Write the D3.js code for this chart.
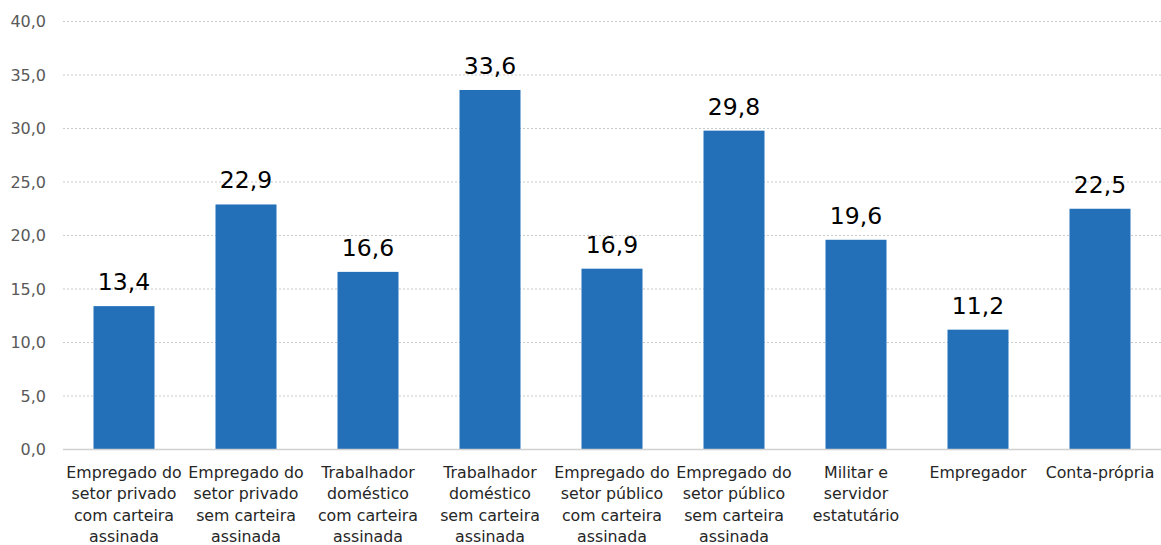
<!DOCTYPE html>
<html>
<head>
<meta charset="utf-8">
<script src="https://cdn.jsdelivr.net/npm/d3@7"></script>
<style>
  body { margin: 0; background: #fff; }
  svg text { font-family: "DejaVu Sans", Verdana, sans-serif; }
</style>
</head>
<body>
<svg id="chart"></svg>
<script>
const categories = [
  ["Empregado do", "setor privado", "com carteira", "assinada"],
  ["Empregado do", "setor privado", "sem carteira", "assinada"],
  ["Trabalhador", "doméstico", "com carteira", "assinada"],
  ["Trabalhador", "doméstico", "sem carteira", "assinada"],
  ["Empregado do", "setor público", "com carteira", "assinada"],
  ["Empregado do", "setor público", "sem carteira", "assinada"],
  ["Militar e", "servidor", "estatutário"],
  ["Empregador"],
  ["Conta-própria"]
];
const values = [13.4, 22.9, 16.6, 33.6, 16.9, 29.8, 19.6, 11.2, 22.5];
const yTicks = [0, 5, 10, 15, 20, 25, 30, 35, 40];

const W = 1161, H = 545;
const fmt = v => d3.format(".1f")(v).replace(".", ",");

const svg = d3.select("#chart").attr("width", W).attr("height", H);

const x = d3.scaleBand()
  .domain(d3.range(categories.length))
  .range([63, 1161])
  .paddingInner(0.5)
  .paddingOuter(0.25);

const y = d3.scaleLinear().domain([0, 40]).range([449.5, 21.5]);

// gridlines
svg.append("g")
  .selectAll("line")
  .data(yTicks.filter(d => d > 0))
  .enter().append("line")
  .attr("x1", 63).attr("x2", 1161)
  .attr("y1", d => y(d)).attr("y2", d => y(d))
  .attr("stroke", "#c9c9c9")
  .attr("stroke-width", 1)
  .attr("stroke-dasharray", "2,2");

// y axis labels
svg.append("g")
  .selectAll("text")
  .data(yTicks)
  .enter().append("text")
  .attr("x", 46)
  .attr("y", d => y(d))
  .attr("dy", "0.35em")
  .attr("text-anchor", "end")
  .attr("fill", "#595959")
  .style("font-size", "16px")
  .text(d => fmt(d));

// bars
svg.append("g")
  .selectAll("rect")
  .data(values)
  .enter().append("rect")
  .attr("x", (d, i) => x(i))
  .attr("y", d => y(d))
  .attr("width", x.bandwidth())
  .attr("height", d => y(0) - y(d))
  .attr("fill", "#2370b9");

// baseline
svg.append("line")
  .attr("x1", 63).attr("x2", 1161)
  .attr("y1", y(0)).attr("y2", y(0))
  .attr("stroke", "#d0d0d0")
  .attr("stroke-width", 1.5);

// value labels
svg.append("g")
  .selectAll("text")
  .data(values)
  .enter().append("text")
  .attr("x", (d, i) => x(i) + x.bandwidth() / 2)
  .attr("y", d => y(d) - 16)
  .attr("text-anchor", "middle")
  .attr("fill", "#000")
  .style("font-size", "23.5px")
  .text(d => fmt(d));

// category labels
const cat = svg.append("g")
  .selectAll("text")
  .data(categories)
  .enter().append("text")
  .attr("text-anchor", "middle")
  .attr("fill", "#262626")
  .style("font-size", "15.8px")
  .attr("x", (d, i) => x(i) + x.bandwidth() / 2)
  .attr("y", 478);

cat.selectAll("tspan")
  .data((d, i) => d.map(t => ({t, i})))
  .enter().append("tspan")
  .attr("x", d => x(d.i) + x.bandwidth() / 2)
  .attr("dy", (d, j) => j === 0 ? 0 : 21.3)
  .text(d => d.t);
</script>
</body>
</html>
